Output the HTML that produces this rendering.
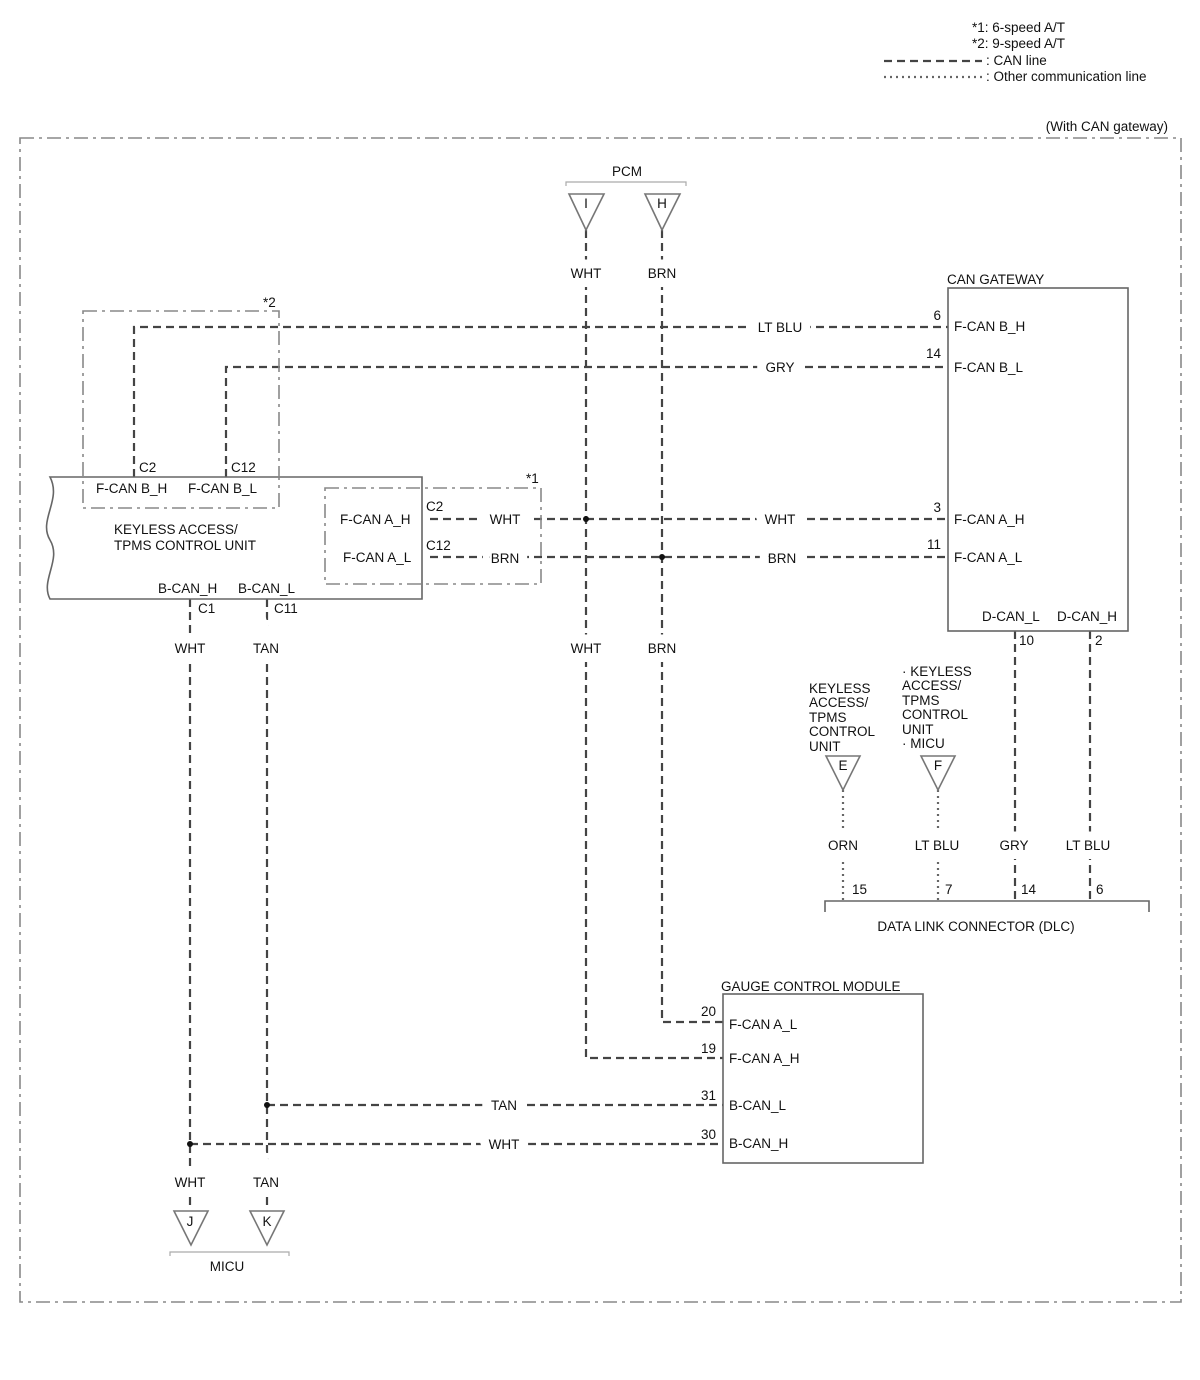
<!DOCTYPE html>
<html><head><meta charset="utf-8"><style>
html,body{margin:0;padding:0;background:#fff}
svg{display:block}
text{font-family:"Liberation Sans",Arial,sans-serif;font-size:13.5px;fill:#111}
.lb{paint-order:stroke;stroke:#fff;stroke-width:18px;stroke-linejoin:miter}
.w{stroke:#444;stroke-width:2.2;fill:none;stroke-dasharray:8 5}
.dot{stroke:#666;stroke-width:2.2;fill:none;stroke-dasharray:2 4}
.box{stroke:#666;stroke-width:1.6;fill:none}
.dd{stroke:#888;stroke-width:1.6;fill:none;stroke-dasharray:14 5 3 5}
.tri{stroke:#777;stroke-width:1.6;fill:#fff}
.br{stroke:#aaa;stroke-width:1.2;fill:none}
</style></head><body>
<svg width="1200" height="1380" viewBox="0 0 1200 1380" xmlns="http://www.w3.org/2000/svg">
<text x="972" y="32">*1: 6-speed A/T</text>
<text x="972" y="48">*2: 9-speed A/T</text>
<line x1="884" y1="61" x2="982" y2="61" class="w"/>
<text x="986" y="65">: CAN line</text>
<line x1="884" y1="77" x2="982" y2="77" class="dot"/>
<text x="986" y="81">: Other communication line</text>
<text x="1168" y="131" text-anchor="end">(With CAN gateway)</text>
<rect x="20" y="138" width="1161" height="1164" class="dd"/>

<text x="627" y="176" text-anchor="middle">PCM</text>
<path d="M566 186 V182 H686 V186" class="br"/>
<path d="M586 230 V1058 H723" class="w"/>
<path d="M662 230 V1022 H723" class="w"/>
<path d="M134 477 V327 H948" class="w"/>
<path d="M226 477 V367 H948" class="w"/>
<path d="M430 519 H948" class="w"/>
<path d="M430 557 H948" class="w"/>
<path d="M190 599 V1210" class="w"/>
<path d="M267 599 V1210" class="w"/>
<path d="M267 1105 H723" class="w"/>
<path d="M190 1144 H723" class="w"/>
<path d="M1015 631 V901" class="w"/>
<path d="M1090 631 V901" class="w"/>
<path d="M843 790 V901" class="dot"/>
<path d="M938 790 V901" class="dot"/>
<circle cx="586" cy="519" r="3" fill="#111"/>
<circle cx="662" cy="557" r="3" fill="#111"/>
<circle cx="267" cy="1105" r="3" fill="#111"/>
<circle cx="190" cy="1144" r="3" fill="#111"/>

<polygon points="569,194 604,194 586,230" class="tri"/><text x="586" y="208" text-anchor="middle">I</text>
<polygon points="645,194 680,194 662,230" class="tri"/><text x="662" y="208" text-anchor="middle">H</text>
<polygon points="174,1211 208,1211 191,1245" class="tri"/><text x="190" y="1226" text-anchor="middle">J</text>
<polygon points="250,1211 284,1211 267,1245" class="tri"/><text x="267" y="1226" text-anchor="middle">K</text>
<polygon points="826,756 860,756 843,790" class="tri"/><text x="843" y="770" text-anchor="middle">E</text>
<polygon points="921,756 955,756 938,790" class="tri"/><text x="938" y="770" text-anchor="middle">F</text>
<path d="M170 1256 V1252 H289 V1256" class="br"/>
<text x="227" y="1271" text-anchor="middle">MICU</text>

<g text-anchor="middle">
<text x="586" y="278" class="lb">WHT</text>
<text x="662" y="278" class="lb">BRN</text>
<text x="780" y="332" class="lb">LT BLU</text>
<text x="780" y="372" class="lb">GRY</text>
<text x="505" y="524" class="lb">WHT</text>
<text x="780" y="524" class="lb">WHT</text>
<text x="505" y="563" class="lb">BRN</text>
<text x="782" y="563" class="lb">BRN</text>
<text x="586" y="653" class="lb">WHT</text>
<text x="662" y="653" class="lb">BRN</text>
<text x="190" y="653" class="lb">WHT</text>
<text x="266" y="653" class="lb">TAN</text>
<text x="504" y="1110" class="lb">TAN</text>
<text x="504" y="1149" class="lb">WHT</text>
<text x="190" y="1187" class="lb">WHT</text>
<text x="266" y="1187" class="lb">TAN</text>
<text x="843" y="850" class="lb">ORN</text>
<text x="937" y="850" class="lb">LT BLU</text>
<text x="1014" y="850" class="lb">GRY</text>
<text x="1088" y="850" class="lb">LT BLU</text>
</g>

<text x="947" y="284">CAN GATEWAY</text>
<rect x="948" y="288" width="180" height="343" fill="#fff" class="box"/>
<text x="954" y="331">F-CAN B_H</text><text x="941" y="320" text-anchor="end">6</text>
<text x="954" y="372">F-CAN B_L</text><text x="941" y="358" text-anchor="end">14</text>
<text x="954" y="524">F-CAN A_H</text><text x="941" y="512" text-anchor="end">3</text>
<text x="954" y="562">F-CAN A_L</text><text x="941" y="549" text-anchor="end">11</text>
<text x="982" y="621">D-CAN_L</text><text x="1057" y="621">D-CAN_H</text>
<text x="1019" y="645">10</text><text x="1095" y="645">2</text>

<path d="M825 912 V901 H1149 V912" class="box"/>
<text x="852" y="894">15</text><text x="945" y="894">7</text><text x="1021" y="894">14</text><text x="1096" y="894">6</text>
<text x="976" y="931" text-anchor="middle">DATA LINK CONNECTOR (DLC)</text>
<text x="809" y="693">KEYLESS</text><text x="809" y="707">ACCESS/</text><text x="809" y="722">TPMS</text><text x="809" y="736">CONTROL</text><text x="809" y="751">UNIT</text>
<text x="902" y="676">· KEYLESS</text><text x="902" y="690">ACCESS/</text><text x="902" y="705">TPMS</text><text x="902" y="719">CONTROL</text><text x="902" y="734">UNIT</text><text x="902" y="748">· MICU</text>

<text x="721" y="991">GAUGE CONTROL MODULE</text>
<rect x="723" y="994" width="200" height="169" fill="#fff" class="box"/>
<text x="729" y="1029">F-CAN A_L</text><text x="716" y="1016" text-anchor="end">20</text>
<text x="729" y="1063">F-CAN A_H</text><text x="716" y="1053" text-anchor="end">19</text>
<text x="729" y="1110">B-CAN_L</text><text x="716" y="1100" text-anchor="end">31</text>
<text x="729" y="1148">B-CAN_H</text><text x="716" y="1139" text-anchor="end">30</text>

<path d="M50 477 H422 V599 H50 C40 580 62 560 50 540 C38 520 62 500 50 477 Z" fill="#fff" stroke="#666" stroke-width="1.6"/>
<text x="139" y="472">C2</text><text x="231" y="472">C12</text>
<text x="96" y="493">F-CAN B_H</text><text x="188" y="493">F-CAN B_L</text>
<text x="114" y="534">KEYLESS ACCESS/</text><text x="114" y="550">TPMS CONTROL UNIT</text>
<text x="158" y="593">B-CAN_H</text><text x="238" y="593">B-CAN_L</text>
<text x="198" y="613">C1</text><text x="274" y="613">C11</text>
<rect x="83" y="311" width="196" height="197" class="dd"/>
<text x="263" y="307">*2</text>
<rect x="325" y="488" width="216" height="96" class="dd"/>
<text x="526" y="483">*1</text>
<text x="340" y="524">F-CAN A_H</text><text x="343" y="562">F-CAN A_L</text>
<text x="426" y="511">C2</text><text x="426" y="550">C12</text>
</svg>
</body></html>
